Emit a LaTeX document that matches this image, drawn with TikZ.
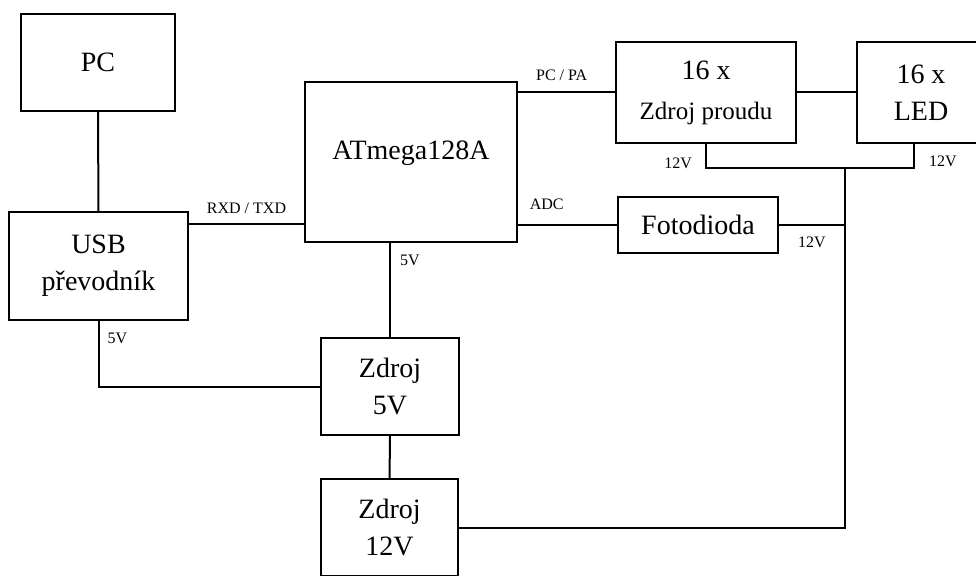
\documentclass[tikz,border=0pt]{standalone}
\usepackage{fontspec}
\setmainfont{Liberation Serif}
\usetikzlibrary{positioning,calc}
\newcommand{\blokfont}{\fontsize{28}{37}\selectfont}
\newcommand{\popisfont}{\fontsize{16}{18}\selectfont}

\begin{document}
\begin{tikzpicture}[x=1pt,y=-1pt,box/.style={draw,line width=2pt,inner sep=0pt,align=center,font=\blokfont},wire/.style={line width=2pt},lbl/.style={font=\popisfont,inner sep=0pt}]
\useasboundingbox (0,0) rectangle (976,575);
\clip (0,0) rectangle (976,575);
\node[box,minimum width=154pt,minimum height=97pt] (pc) at (98,62.5) {PC};
\node[box,minimum width=179pt,minimum height=108pt] (usb) at (98.5,266) {USB\\převodník};
\node[box,minimum width=212pt,minimum height=160pt,text depth=24pt] (mcu) at (411,162) {ATmega128A};
\node[box,minimum width=180pt,minimum height=101pt] (proud) at (706,92.5) {16 x\\[3pt]{\fontsize{25}{30}\selectfont Zdroj proudu}};
\node[box,minimum width=128pt,minimum height=101pt] (led) at (921,92.5) {16 x\\LED};
\node[box,minimum width=160pt,minimum height=56pt] (foto) at (698,225) {Fotodioda};
\node[box,minimum width=138pt,minimum height=97pt] (z5) at (390,386.5) {Zdroj\\5V};
\node[box,minimum width=137pt,minimum height=97pt] (z12) at (389.5,527.5) {Zdroj\\12V};
\coordinate (bus) at (845,168);
% propojeni
\draw[wire] (pc)--(usb);
\draw[wire] ([yshift=42pt]usb.east) -- node[lbl,above=9pt] (rxtx) {RXD / TXD} ([yshift=42pt]usb.east -| mcu.west);
\draw[wire] (mcu.east |- proud.west) -- node[lbl,above=11pt,pos=.45] (pcpa) {PC / PA} (proud.west);
\draw[wire] (mcu.east |- foto.west) -- node[lbl,above=14pt,pos=.29] (adc) {ADC} (foto.west);
\draw[wire] (proud)--(led);
\draw[wire] (mcu.south -| z5.north) -- node[lbl,right=9pt,pos=.19] (u5a) {5V} (z5.north);
\draw[wire] (usb.south) |- node[lbl,right=8pt,pos=.135] (u5b) {5V} (z5.west);
\draw[wire] (z5)--(z12);
\draw[wire] (proud.south) |- node[lbl,left=13pt,pos=.4] (u12a) {12V} (bus) -| node[lbl,right=14pt,pos=.64] (u12b) {12V} ([xshift=-7pt]led.south);
\draw[wire] (foto.east) -- node[lbl,below=11pt] (u12c) {12V} (foto.east -| bus);
\draw[wire] (z12.east) -| (bus);
\end{tikzpicture}
\end{document}
